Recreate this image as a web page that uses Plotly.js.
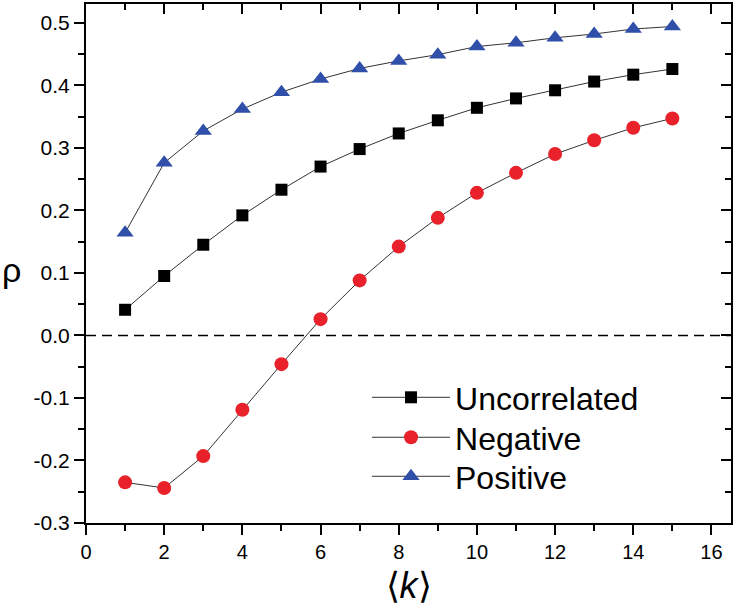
<!DOCTYPE html>
<html>
<head>
<meta charset="utf-8">
<script src="https://cdn.plot.ly/plotly-3.0.1.min.js"></script>
<style>html,body{margin:0;padding:0;background:#fff;}</style>
</head>
<body>
<div id="chart" style="width:733px;height:606px;"></div>
<script>
const kValues = [1,2,3,4,5,6,7,8,9,10,11,12,13,14,15];
const uncorrelated = [0.041,0.095,0.145,0.192,0.233,0.270,0.298,0.323,0.344,0.364,0.379,0.392,0.406,0.417,0.426];
const negative = [-0.235,-0.244,-0.193,-0.119,-0.046,0.026,0.088,0.142,0.188,0.228,0.260,0.290,0.312,0.332,0.347];
const positive = [0.164,0.276,0.327,0.362,0.389,0.410,0.427,0.439,0.449,0.462,0.468,0.476,0.482,0.490,0.494];
const seriesNames = ['Uncorrelated','Negative','Positive'];
const xTickVals = [0,2,4,6,8,10,12,14,16];
const xTickText = ['0','2','4','6','8','10','12','14','16'];
const yTickVals = [-0.3,-0.2,-0.1,0.0,0.1,0.2,0.3,0.4,0.5];
const yTickText = ['-0.3','-0.2','-0.1','0.0','0.1','0.2','0.3','0.4','0.5'];

const FONT = 'Liberation Sans, Arial, sans-serif';
const lineStyle = {color:'#333', width:1};

const traces = [
  {x:kValues, y:uncorrelated, name:seriesNames[0], legend:'legend', mode:'lines+markers', type:'scatter',
   line:lineStyle, marker:{symbol:'square', size:12, color:'#000'}},
  {x:kValues, y:negative, name:seriesNames[1], legend:'legend2', mode:'lines+markers', type:'scatter',
   line:lineStyle, marker:{symbol:'circle', size:14, color:'#E8212B'}},
  {x:kValues, y:positive, name:seriesNames[2], legend:'legend3', mode:'lines+markers', type:'scatter',
   line:lineStyle, marker:{symbol:'triangle-up', size:15, color:'#2F4FA8'}},
  // invisible copy so the mirrored top/right axes get drawn
  {x:kValues, y:positive, xaxis:'x2', yaxis:'y2', showlegend:false, hoverinfo:'skip',
   type:'scatter', mode:'markers', marker:{opacity:0}}
];

const axCommon = {showgrid:false, zeroline:false, showline:true, linecolor:'#000', linewidth:2,
  tickcolor:'#000', tickwidth:2, ticklen:10};

const legendBase = {x:0.4357, xanchor:'left', yanchor:'top', bgcolor:'rgba(0,0,0,0)', borderwidth:0,
  font:{family:FONT, size:32, color:'#000'}, itemwidth:78};

const layout = {
  width:733, height:606,
  margin:{l:86, r:2, t:4, b:83},
  paper_bgcolor:'#fff', plot_bgcolor:'#fff',
  font:{family:FONT, color:'#000'},
  showlegend:true,
  legend:Object.assign({}, legendBase, {y:0.2948}),
  legend2:Object.assign({}, legendBase, {y:0.2178}),
  legend3:Object.assign({}, legendBase, {y:0.1426}),
  xaxis:Object.assign({}, axCommon, {range:[0,16.5], ticks:'outside', tickmode:'array',
    tickvals:xTickVals, ticktext:xTickText, tickfont:{family:FONT, size:20, color:'#000'},
    minor:{dtick:1, tick0:0, ticks:'outside', ticklen:6, tickwidth:2, tickcolor:'#000'},
    title:{text:'\u27e8<i>k</i>\u27e9', font:{family:FONT, size:36, color:'#000'}, standoff:12}}),
  yaxis:Object.assign({}, axCommon, {range:[-0.3,0.53], ticks:'outside', tickmode:'array',
    tickvals:yTickVals, ticktext:yTickText, tickfont:{family:FONT, size:21, color:'#000'},
    minor:{dtick:0.05, tick0:0, ticks:'outside', ticklen:6, tickwidth:2, tickcolor:'#000'}}),
  xaxis2:Object.assign({}, axCommon, {range:[0,16.5], overlaying:'x', side:'top', ticks:'inside',
    tickmode:'array', tickvals:xTickVals, ticktext:xTickText, showticklabels:false,
    minor:{dtick:1, tick0:0, ticks:'inside', ticklen:6, tickwidth:2, tickcolor:'#000'}}),
  yaxis2:Object.assign({}, axCommon, {range:[-0.3,0.53], overlaying:'y', side:'right', ticks:'inside',
    tickmode:'array', tickvals:yTickVals, ticktext:yTickText, showticklabels:false,
    minor:{dtick:0.05, tick0:0, ticks:'inside', ticklen:6, tickwidth:2, tickcolor:'#000'}}),
  shapes:[{type:'line', xref:'paper', x0:0, x1:1, yref:'y', y0:0, y1:0,
    line:{color:'#000', width:1.5, dash:'10px,6px'}}],
  annotations:[{text:'\u03c1', xref:'paper', yref:'paper', x:-0.115, y:0.487, showarrow:false,
    xanchor:'center', yanchor:'middle', font:{family:FONT, size:34, color:'#000'}}]
};

Plotly.newPlot('chart', traces, layout, {displayModeBar:false, staticPlot:true});
</script>
</body>
</html>
